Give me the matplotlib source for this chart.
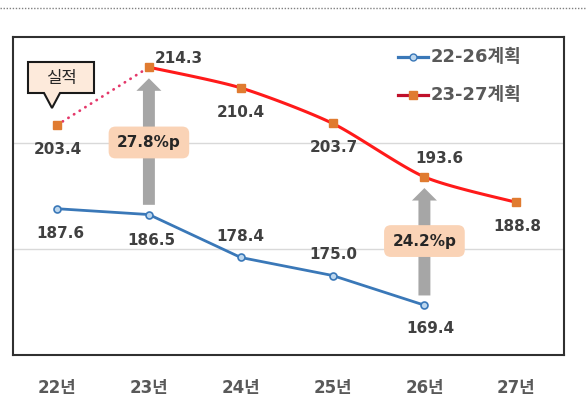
import numpy as np
import matplotlib
matplotlib.use("Agg")
import matplotlib.pyplot as plt
from matplotlib.lines import Line2D
from matplotlib.patches import Polygon, FancyArrowPatch

plt.rcParams['font.family'] = ['DejaVu Sans', 'Noto Sans CJK KR']

# ---- data ----
years = ['22년', '23년', '24년', '25년', '26년', '27년']
plan_22_26 = [187.6, 186.5, 178.4, 175.0, 169.4]          # 22..26
plan_23_27 = [203.4, 214.3, 210.4, 203.7, 193.6, 188.8]   # 22(실적)..27
legend_labels = ['22-26계획', '23-27계획']
gap_labels = ['27.8%p', '24.2%p']
gap_years = [1, 4]
callout_text = '실적'

W, H = 587, 401
fig = plt.figure(figsize=(W / 100, H / 100), dpi=100)

def fx(x):
    return x / W

def fy(y):
    return 1 - y / H

ax_l, ax_r, ax_t, ax_b = 13, 564, 37, 355
ax = fig.add_axes([fx(ax_l), fy(ax_b), (ax_r - ax_l) / W, (ax_b - ax_t) / H])
ax.set_xlim(-0.48, 5.52)
ax.set_ylim(160, 220)
ax.set_yticks([180, 200])
ax.yaxis.grid(True, color='#d9d9d9', lw=1)
ax.set_axisbelow(True)
ax.tick_params(axis='y', left=False, labelleft=False)
ax.set_xticks(range(len(years)))
ax.set_xticklabels(years, fontsize=12, fontweight='bold', color='#595959')
ax.tick_params(axis='x', length=0, pad=17)
for s in ax.spines.values():
    s.set_color('#303030')
    s.set_linewidth(1.5)

xr = np.arange(len(plan_23_27))
xb = np.arange(len(plan_22_26))

RED = '#ff1a1a'
BLUE = '#3a78b8'
ORANGE = '#e07b30'

# smooth curve helper (bezier smoothing, rendering only)
def smooth(xs, ys, n=30, k=8.0):
    xs = np.asarray(xs, float); ys = np.asarray(ys, float)
    px, py = [], []
    for i in range(len(xs) - 1):
        p0 = (xs[max(i - 1, 0)], ys[max(i - 1, 0)])
        p1 = (xs[i], ys[i]); p2 = (xs[i + 1], ys[i + 1])
        p3 = (xs[min(i + 2, len(xs) - 1)], ys[min(i + 2, len(xs) - 1)])
        c1 = (p1[0] + (p2[0] - p0[0]) / k, p1[1] + (p2[1] - p0[1]) / k)
        c2 = (p2[0] - (p3[0] - p1[0]) / k, p2[1] - (p3[1] - p1[1]) / k)
        t = np.linspace(0, 1, n)
        bx = (1 - t) ** 3 * p1[0] + 3 * (1 - t) ** 2 * t * c1[0] + 3 * (1 - t) * t ** 2 * c2[0] + t ** 3 * p2[0]
        by = (1 - t) ** 3 * p1[1] + 3 * (1 - t) ** 2 * t * c1[1] + 3 * (1 - t) * t ** 2 * c2[1] + t ** 3 * p2[1]
        px.extend(bx); py.extend(by)
    return px, py

# gray arrows
for gx in gap_years:
    arr = FancyArrowPatch((gx, plan_22_26[gx]), (gx, plan_23_27[gx]),
                          arrowstyle='simple,head_length=9,head_width=18,tail_width=8.6',
                          mutation_scale=1, color='#a6a6a6', shrinkA=7, shrinkB=8,
                          lw=0, zorder=2)
    ax.add_patch(arr)

# blue series
ax.plot(xb, plan_22_26, color=BLUE, lw=2, marker='o', ms=5,
        mfc='#bdd7ee', mec=BLUE, mew=1.2, zorder=4)

# red series: dotted actual segment + smooth plan
ax.plot(xr[:2], plan_23_27[:2], color='#e4386a', lw=2.0, ls=(0, (0.1, 2.3)),
        dash_capstyle='round', zorder=3)
sx, sy = smooth(xr[1:], plan_23_27[1:])
ax.plot(sx, sy, color=RED, lw=2.2, zorder=4)
ax.plot(xr, plan_23_27, ls='none', marker='s', ms=6, mfc=ORANGE, mec=ORANGE, zorder=5)

# value labels (offsets in pixels)
red_off = [(1, -25), (30, 9), (0, -25), (1, -24), (15, 18), (1, -24)]
blue_off = [(3, -25), (2, -26), (0, 21), (1, 21), (6, -23)]
for x, v, (dx, dy) in zip(xr, plan_23_27, red_off):
    ax.annotate(f'{v:.1f}', (x, v), xytext=(dx, dy), textcoords='offset pixels',
                ha='center', va='center', fontsize=11, fontweight='bold',
                color='#404040', zorder=6)
for x, v, (dx, dy) in zip(xb, plan_22_26, blue_off):
    ax.annotate(f'{v:.1f}', (x, v), xytext=(dx, dy), textcoords='offset pixels',
                ha='center', va='center', fontsize=11, fontweight='bold',
                color='#404040', zorder=6)

# gap boxes
box_y = [200.1, 181.5]
for gx, lab, by in zip(gap_years, gap_labels, box_y):
    ax.text(gx, by, lab, ha='center', va='center', fontsize=11, fontweight='bold',
            color='#262626', zorder=7,
            bbox=dict(boxstyle='round,pad=0.55,rounding_size=0.45',
                      fc='#fad3b6', ec='none'))

# callout "실적"
bx0, bx1, by0, by1 = 28, 94, 62, 93
pts = [(bx0, by0), (bx1, by0), (bx1, by1), (60, by1), (52, 108), (44, by1), (bx0, by1)]
fig.add_artist(Polygon([(fx(x), fy(y)) for x, y in pts], closed=True,
                       transform=fig.transFigure, fc='#fdeadb', ec='#1a1a1a', lw=1.5, zorder=8))
fig.text(fx((bx0 + bx1) / 2), fy((by0 + by1) / 2 + 1), callout_text, ha='center', va='center',
         fontsize=12, fontweight='medium', color='#262626', family=['Noto Sans CJK KR'], zorder=9)

# legend (manual)
leg_rows = [57, 95]
for (yy, lab, lc, mk, mfc, mec, ms) in [
        (leg_rows[0], legend_labels[0], BLUE, 'o', '#bdd7ee', BLUE, 5),
        (leg_rows[1], legend_labels[1], '#c0102a', 's', ORANGE, ORANGE, 6)]:
    fig.add_artist(Line2D([fx(398), fx(428)], [fy(yy), fy(yy)], color=lc, lw=2.3,
                          transform=fig.transFigure))
    fig.add_artist(Line2D([fx(413)], [fy(yy)], marker=mk, ms=ms, mfc=mfc, mec=mec,
                          transform=fig.transFigure))
    fig.text(fx(431), fy(yy), lab, ha='left', va='center', fontsize=13,
             fontweight='bold', color='#595959')

# top dotted rule
fig.add_artist(Line2D([0, 1], [fy(8), fy(8)], color='#808080', lw=1,
                      ls=(0, (1, 1.2)), transform=fig.transFigure))

fig.savefig('out.png', dpi=100)
